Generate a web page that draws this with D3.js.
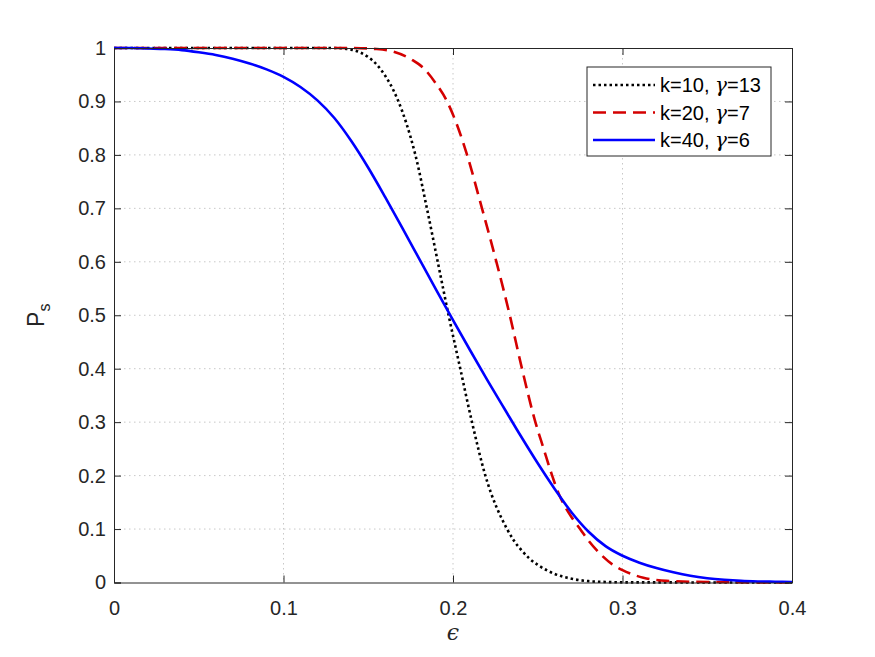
<!DOCTYPE html>
<html>
<head>
<meta charset="utf-8">
<script src="https://cdn.jsdelivr.net/npm/d3@7"></script>
<style>
  body { margin: 0; background: #fff; }
  svg { font-family: "Liberation Sans", Arial, sans-serif; }
  .grid line { stroke: #c8c8c8; stroke-dasharray: 1.5,3.5; stroke-width: 1; }
</style>
</head>
<body>
<svg id="svg" width="875" height="657"></svg>
<script>
// values
var xTicks = [0, 0.1, 0.2, 0.3, 0.4];
var yTicks = [0, 0.1, 0.2, 0.3, 0.4, 0.5, 0.6, 0.7, 0.8, 0.9, 1];

var epsK10 = [0, 0.13, 0.14, 0.145, 0.15, 0.155, 0.16, 0.165, 0.17, 0.175, 0.1778, 0.1846, 0.191, 0.1974, 0.2043, 0.2112, 0.2191, 0.2319, 0.2358, 0.24, 0.245, 0.25, 0.26, 0.27, 0.28, 0.29, 0.3, 0.4];
var psK10 = [1, 1, 0.997, 0.992, 0.983, 0.969, 0.948, 0.92, 0.882, 0.833, 0.8, 0.7, 0.6, 0.5, 0.4, 0.3, 0.2, 0.1, 0.079, 0.062, 0.045, 0.033, 0.016, 0.007, 0.0025, 0.001, 0.0003, 0];

var epsK20 = [0, 0.14, 0.155, 0.165, 0.1758, 0.1827, 0.1896, 0.1965, 0.2025, 0.2083, 0.2171, 0.2256, 0.2335, 0.2407, 0.2486, 0.2535, 0.2585, 0.2625, 0.2654, 0.27, 0.275, 0.28, 0.2867, 0.294, 0.3, 0.306, 0.3123, 0.326, 0.35, 0.4];
var psK20 = [1, 1, 0.998, 0.993, 0.978, 0.962, 0.935, 0.9, 0.855, 0.8, 0.7, 0.6, 0.5, 0.4, 0.3, 0.25, 0.2, 0.165, 0.146, 0.122, 0.1, 0.078, 0.054, 0.034, 0.023, 0.015, 0.009, 0.003, 0.001, 0];

var epsK40 = [0, 0.01, 0.02, 0.03, 0.04, 0.05, 0.06, 0.07, 0.08, 0.09, 0.1, 0.11, 0.12, 0.13, 0.14, 0.15, 0.16, 0.17, 0.18, 0.19, 0.2, 0.21, 0.22, 0.23, 0.24, 0.25, 0.26, 0.27, 0.28, 0.29, 0.3, 0.31, 0.32, 0.33, 0.34, 0.35, 0.36, 0.37, 0.38, 0.39, 0.4];
var psK40 = [1, 1, 0.999, 0.998, 0.996, 0.992, 0.987, 0.98, 0.971, 0.96, 0.946, 0.927, 0.902, 0.869, 0.826, 0.776, 0.721, 0.664, 0.606, 0.548, 0.491, 0.435, 0.38, 0.327, 0.274, 0.223, 0.175, 0.131, 0.095, 0.068, 0.05, 0.037, 0.027, 0.019, 0.0125, 0.008, 0.005, 0.003, 0.002, 0.0015, 0.001];

var seriesNames = ["k=10, ", "k=20, ", "k=40, "];
var gammaValues = ["13", "7", "6"];
var seriesColors = ["#000000", "#d40000", "#0000ff"];
var seriesDash = ["2.5,3", "13,7", null];

var svg = d3.select("#svg");
// plot area (note: "top" is taken by window.top, so prefix these)
var plotLeft = 114, plotRight = 792, plotTop = 48, plotBottom = 582.5;

var x = d3.scaleLinear().domain([0, 0.4]).range([plotLeft, plotRight]);
var y = d3.scaleLinear().domain([0, 1]).range([plotBottom, plotTop]);

// grid
var grid = svg.append("g").attr("class", "grid");
grid.selectAll(".gx")
  .data(xTicks.slice(1, -1))
  .enter()
  .append("line")
  .attr("x1", d => x(d)).attr("x2", d => x(d))
  .attr("y1", plotTop).attr("y2", plotBottom);
grid.selectAll(".gy")
  .data(yTicks.slice(1, -1))
  .enter()
  .append("line")
  .attr("x1", plotLeft).attr("x2", plotRight)
  .attr("y1", d => y(d)).attr("y2", d => y(d));

// curves
var line = d3.line()
  .x(d => x(d[0]))
  .y(d => y(d[1]))
  .curve(d3.curveMonotoneX);

var allSeries = [
  d3.zip(epsK10, psK10),
  d3.zip(epsK20, psK20),
  d3.zip(epsK40, psK40)
];

allSeries.forEach((s, i) => {
  svg.append("path")
    .datum(s)
    .attr("d", line)
    .attr("fill", "none")
    .attr("stroke", seriesColors[i])
    .attr("stroke-width", 2.6)
    .attr("stroke-dasharray", seriesDash[i]);
});

// axes box, ticks inward on all four sides
var axisColor = "#262626";
var fmt = d => d === 0 ? "0" : d === 1 ? "1" : d3.format(".1f")(d);

var xAxis = svg.append("g")
  .attr("transform", `translate(0, ${plotBottom})`)
  .call(d3.axisBottom(x).tickValues(xTicks).tickSize(-7).tickPadding(18).tickFormat(fmt));
var yAxis = svg.append("g")
  .attr("transform", `translate(${plotLeft}, 0)`)
  .call(d3.axisLeft(y).tickValues(yTicks).tickSize(-7).tickPadding(8).tickFormat(fmt));
var xTop = svg.append("g")
  .attr("transform", `translate(0, ${plotTop})`)
  .call(d3.axisTop(x).tickValues(xTicks).tickSize(-7).tickFormat(""));
var yRight = svg.append("g")
  .attr("transform", `translate(${plotRight}, 0)`)
  .call(d3.axisRight(y).tickValues(yTicks).tickSize(-7).tickFormat(""));

[xAxis, yAxis, xTop, yRight].forEach(a => {
  a.select(".domain").attr("stroke", axisColor).attr("stroke-width", 1);
  a.selectAll(".tick line").attr("stroke", axisColor);
  a.selectAll("text")
    .attr("fill", axisColor)
    .style("font-size", "20px")
    .style("font-family", "'Liberation Sans', Arial, sans-serif");
});

// axis labels
svg.append("text")
  .attr("x", (plotLeft + plotRight) / 2)
  .attr("y", 640)
  .attr("text-anchor", "middle")
  .attr("fill", axisColor)
  .style("font-size", "22px")
  .style("font-family", "'DejaVu Serif', serif")
  .style("font-style", "italic")
  .text("\u03f5");

var yl = svg.append("text")
  .attr("transform", `translate(44, ${(plotTop + plotBottom) / 2}) rotate(-90)`)
  .attr("text-anchor", "middle")
  .attr("fill", axisColor)
  .style("font-size", "23px");
yl.append("tspan").text("P");
yl.append("tspan").attr("dy", 6).style("font-size", "16px").text("s");

// legend
var lg = svg.append("g");
lg.append("rect")
  .attr("x", 587).attr("y", 67)
  .attr("width", 184).attr("height", 89)
  .attr("fill", "#fff")
  .attr("stroke", axisColor)
  .attr("stroke-width", 1);

seriesNames.forEach((name, i) => {
  var ly = 85 + i * 27.5;
  lg.append("line")
    .attr("x1", 593).attr("x2", 655)
    .attr("y1", ly).attr("y2", ly)
    .attr("stroke", seriesColors[i])
    .attr("stroke-width", 2.6)
    .attr("stroke-dasharray", seriesDash[i]);
  var t = lg.append("text")
    .attr("x", 660).attr("y", ly + 7)
    .attr("fill", "#000")
    .style("font-size", "20px");
  t.append("tspan").text(name);
  t.append("tspan")
    .style("font-family", "'DejaVu Serif', serif")
    .style("font-style", "italic")
    .text("\u03b3");
  t.append("tspan").text("=" + gammaValues[i]);
});
</script>
</body>
</html>
